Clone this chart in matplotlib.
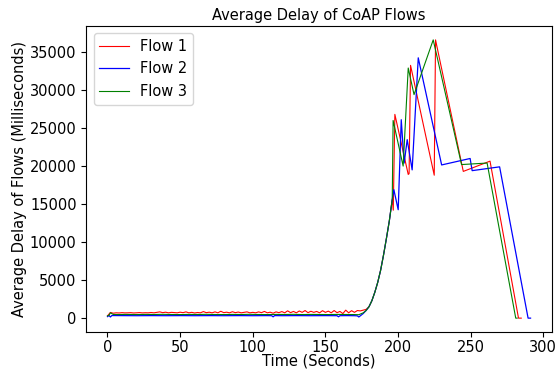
import matplotlib
matplotlib.use("Agg")
import matplotlib.pyplot as plt

# ---- data ----
red_base_t = list(range(0, 174, 2))
red_base_v = [300, 750, 650, 700, 680, 720, 690, 700, 720, 680, 700, 730, 690, 710, 700, 740,
              700, 760, 820, 720, 780, 700, 760, 730, 700, 780, 720, 820, 700, 760, 680, 740,
              700, 860, 720, 780, 700, 820, 700, 900, 720, 780, 700, 840, 720, 800, 700, 760,
              820, 700, 760, 700, 820, 720, 880, 700, 780, 650, 820, 720, 860, 700, 960, 720,
              880, 700, 940, 760, 1000, 720, 900, 760, 880, 700, 980, 760, 920, 700, 1000, 720,
              880, 600, 1050, 700, 980, 760, 1000]
red_tail_t = [174, 176, 178, 180, 182, 184, 186, 188, 190, 192, 194, 196, 196.7, 197.8,
              207, 207.6, 208.6, 224.9, 225.8, 244.9, 263.3, 282.9, 284.8]
red_tail_v = [950, 1050, 1150, 1500, 2300, 3400, 4700, 6300, 8300, 10500, 12800, 15600, 14200, 26800,
              18900, 19000, 33250, 18800, 36600, 19300, 20650, 0, 0]

green_t = [0, 1, 2, 4, 8, 12, 16, 20, 26, 32, 38, 44, 50, 56, 62, 68, 74, 80, 86, 92, 98,
           104, 110, 116, 122, 128, 134, 140, 146, 152, 158, 164, 170, 173,
           176, 178, 180, 182, 184, 186, 188, 190, 192, 194, 196, 196.6,
           203.5, 207, 211, 224.2, 243.7, 261.3, 281, 282]
green_v = [300, 350, 700, 480, 470, 490, 480, 470, 490, 480, 500, 480, 470, 490, 480, 500,
           480, 470, 490, 480, 500, 480, 470, 490, 480, 500, 470, 490, 480, 470, 490, 480, 470, 450,
           700, 1000, 1500, 2300, 3400, 4700, 6300, 8300, 10500, 12800, 15600, 26000,
           20000, 32900, 29400, 36600, 20200, 20400, 0, 0]

blue_t = [0, 1, 2, 3, 10, 20, 30, 40, 50, 60, 70, 80, 90, 100, 110, 113, 114, 115, 120,
          130, 140, 150, 158, 159, 160, 165, 170, 172, 173, 174, 176, 178,
          180, 182, 184, 186, 188, 190, 192, 194, 196, 197.1, 200.1, 202.2, 204.2, 206.3,
          209.7, 213.9, 230, 249.6, 251, 269.9, 289.5, 291.2]
blue_v = [200, 350, 150, 340, 330, 320, 330, 320, 330, 320, 330, 320, 330, 320, 330, 320, 170, 330, 320,
          330, 320, 330, 320, 180, 320, 330, 320, 300, 150, 300, 600, 1000,
          1500, 2300, 3400, 4700, 6300, 8300, 10500, 12800, 15600, 16900, 14260, 26100, 20400, 23480,
          19500, 34240, 20150, 21000, 19400, 19900, 0, 0]

labels = ["Flow 1", "Flow 2", "Flow 3"]
colors = ["red", "blue", "green"]

red_t = red_base_t + red_tail_t
red_v = red_base_v + red_tail_v

plt.rcParams['font.family'] = ['DejaVu Sans']
fig = plt.figure(figsize=(5.57, 3.71), dpi=100)
ax = fig.add_axes([0.155, 0.105, 0.8355, 0.825])

ax.plot(red_t, red_v, color=colors[0], lw=0.8, label=labels[0])
ax.plot(blue_t, blue_v, color=colors[1], lw=0.9, label=labels[1])
ax.plot(green_t, green_v, color=colors[2], lw=0.8, label=labels[2])

ax.set_xticks([0, 50, 100, 150, 200, 250, 300])
ax.set_yticks([0, 5000, 10000, 15000, 20000, 25000, 30000, 35000])
ax.tick_params(labelsize=10.5)
ax.tick_params(axis='x', pad=2)
ax.set_title("Average Delay of CoAP Flows", fontsize=10.5, pad=4)
ax.set_xlabel("Time (Seconds)", fontsize=10.5, labelpad=-1)
ax.set_ylabel("Average Delay of Flows (Milliseconds)", fontsize=10.5, labelpad=2)
ax.legend(loc="upper left", fontsize=10.5)

fig.savefig("out.png", dpi=100)
